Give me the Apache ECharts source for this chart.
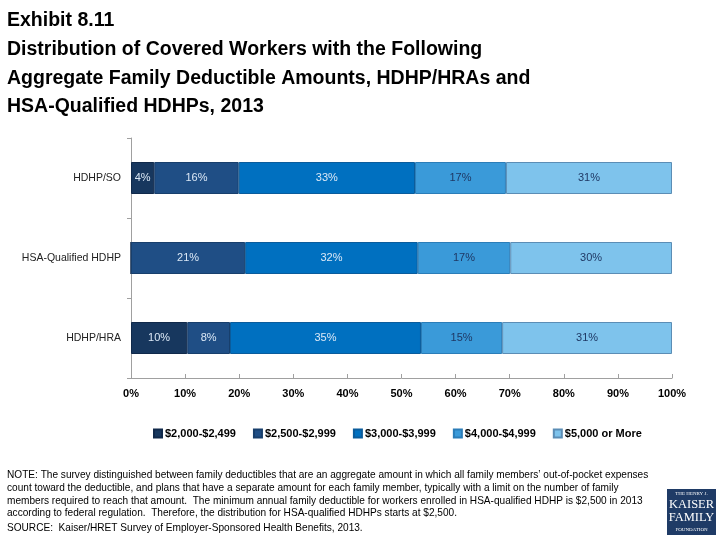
<!DOCTYPE html>
<html>
<head>
<meta charset="utf-8">
<script src="https://cdn.jsdelivr.net/npm/echarts@6/dist/echarts.min.js"></script>
<style>html,body{margin:0;padding:0;background:#fff;}#c{width:720px;height:540px;}</style>
</head>
<body>
<div id="c"></div>
<script>
const categories = ['HDHP/SO', 'HSA-Qualified HDHP', 'HDHP/HRA'];
const seriesNames = ['$2,000-$2,499', '$2,500-$2,999', '$3,000-$3,999', '$4,000-$4,999', '$5,000 or More'];
const s2000 = [4.3, 0, 10.4];
const s2500 = [15.6, 21.1, 7.9];
const s3000 = [32.6, 31.9, 35.3];
const s4000 = [16.8, 17.1, 15.0];
const s5000 = [30.7, 29.9, 31.4];
const xTicks = [0, 10, 20, 30, 40, 50, 60, 70, 80, 90, 100];

const colors = ['#17375E', '#1F4E85', '#0070C0', '#3A9AD9', '#7EC3EC'];
const borders = ['#10294a', '#183f6c', '#0a5c9c', '#2b7db8', '#5b8db5'];
const labelColors = ['#dbe8f6', '#dbe8f6', '#dbe8f6', '#1F3864', '#1F3864'];
const FONT = 'Liberation Sans, Arial, sans-serif';
const NARROW = 'Liberation Sans Narrow, Liberation Sans, sans-serif';

const chart = echarts.init(document.getElementById('c'));
const allData = [s2000, s2500, s3000, s4000, s5000];
chart.setOption({
  animation: false,
  textStyle: { fontFamily: FONT },
  title: {
    text: 'Exhibit 8.11\nDistribution of Covered Workers with the Following\nAggregate Family Deductible Amounts, HDHP/HRAs and\nHSA-Qualified HDHPs, 2013',
    left: 2, top: 1.5,
    textStyle: { fontSize: 19.5, fontWeight: 'bold', color: '#000', lineHeight: 28.7, fontFamily: FONT }
  },
  legend: {
    top: 423, left: 148,
    itemWidth: 8, itemHeight: 8, itemGap: 17,
    icon: 'rect',
    textStyle: { fontSize: 11, fontWeight: 'bold', color: '#000', padding: [0, 0, 0, -2] },
    data: seriesNames
  },
  grid: { left: 131, right: 48, top: 138, bottom: 162, containLabel: false },
  xAxis: {
    type: 'value', min: 0, max: 100, interval: 10,
    axisLine: { show: true, lineStyle: { color: '#a0a0a0' } },
    axisTick: { show: true, inside: true, length: 4, lineStyle: { color: '#a0a0a0' } },
    splitLine: { show: false },
    axisLabel: { formatter: '{value}%', fontSize: 11, fontWeight: 'bold', color: '#000', margin: 10 }
  },
  yAxis: {
    type: 'category', data: categories, inverse: true,
    axisLine: { show: true, lineStyle: { color: '#a0a0a0' } },
    axisTick: { show: true, length: 4, lineStyle: { color: '#a0a0a0' } },
    axisLabel: { fontSize: 10.5, color: '#222', margin: 10 }
  },
  series: allData.map((d, i) => ({
    name: seriesNames[i],
    type: 'bar', stack: 'total',
    barWidth: 32,
    data: d,
    itemStyle: { color: colors[i], borderColor: borders[i], borderWidth: 1 },
    label: {
      show: true, position: 'inside', fontSize: 11, color: labelColors[i],
      formatter: p => p.value > 0 ? Math.round(p.value) + '%' : ''
    }
  })),
  graphic: [
    { type: 'text', left: 7, top: 469, style: { text:
      'NOTE: The survey distinguished between family deductibles that are an aggregate amount in which all family members\u2019 out-of-pocket expenses\ncount toward the deductible, and plans that have a separate amount for each family member, typically with a limit on the number of family\nmembers required to reach that amount.  The minimum annual family deductible for workers enrolled in HSA-qualified HDHP is $2,500 in 2013\naccording to federal regulation.  Therefore, the distribution for HSA-qualified HDHPs starts at $2,500.',
      fontSize: 10.1, lineHeight: 12.7, fill: '#000', fontFamily: NARROW } },
    { type: 'text', left: 7, top: 522, style: { text: 'SOURCE:  Kaiser/HRET Survey of Employer-Sponsored Health Benefits, 2013.',
      fontSize: 10.1, lineHeight: 12.7, fill: '#000', fontFamily: NARROW } },
    { type: 'rect', shape: { x: 667, y: 489, width: 49, height: 46 }, style: { fill: '#1F3B66' } },
    { type: 'text', style: { x: 691.5, y: 494, text: 'THE HENRY J.', fontSize: 5, fill: '#fff', textAlign: 'center', textVerticalAlign: 'middle', fontFamily: 'Liberation Serif, serif' } },
    { type: 'text', style: { x: 691.5, y: 505, text: 'KAISER', fontSize: 12.5, fill: '#fff', textAlign: 'center', textVerticalAlign: 'middle', fontFamily: 'Liberation Serif, serif' } },
    { type: 'text', style: { x: 691.5, y: 518, text: 'FAMILY', fontSize: 12.5, fill: '#fff', textAlign: 'center', textVerticalAlign: 'middle', fontFamily: 'Liberation Serif, serif' } },
    { type: 'text', style: { x: 691.5, y: 530, text: 'FOUNDATION', fontSize: 5, fill: '#fff', textAlign: 'center', textVerticalAlign: 'middle', fontFamily: 'Liberation Serif, serif' } }
  ]
});
</script>
</body>
</html>
